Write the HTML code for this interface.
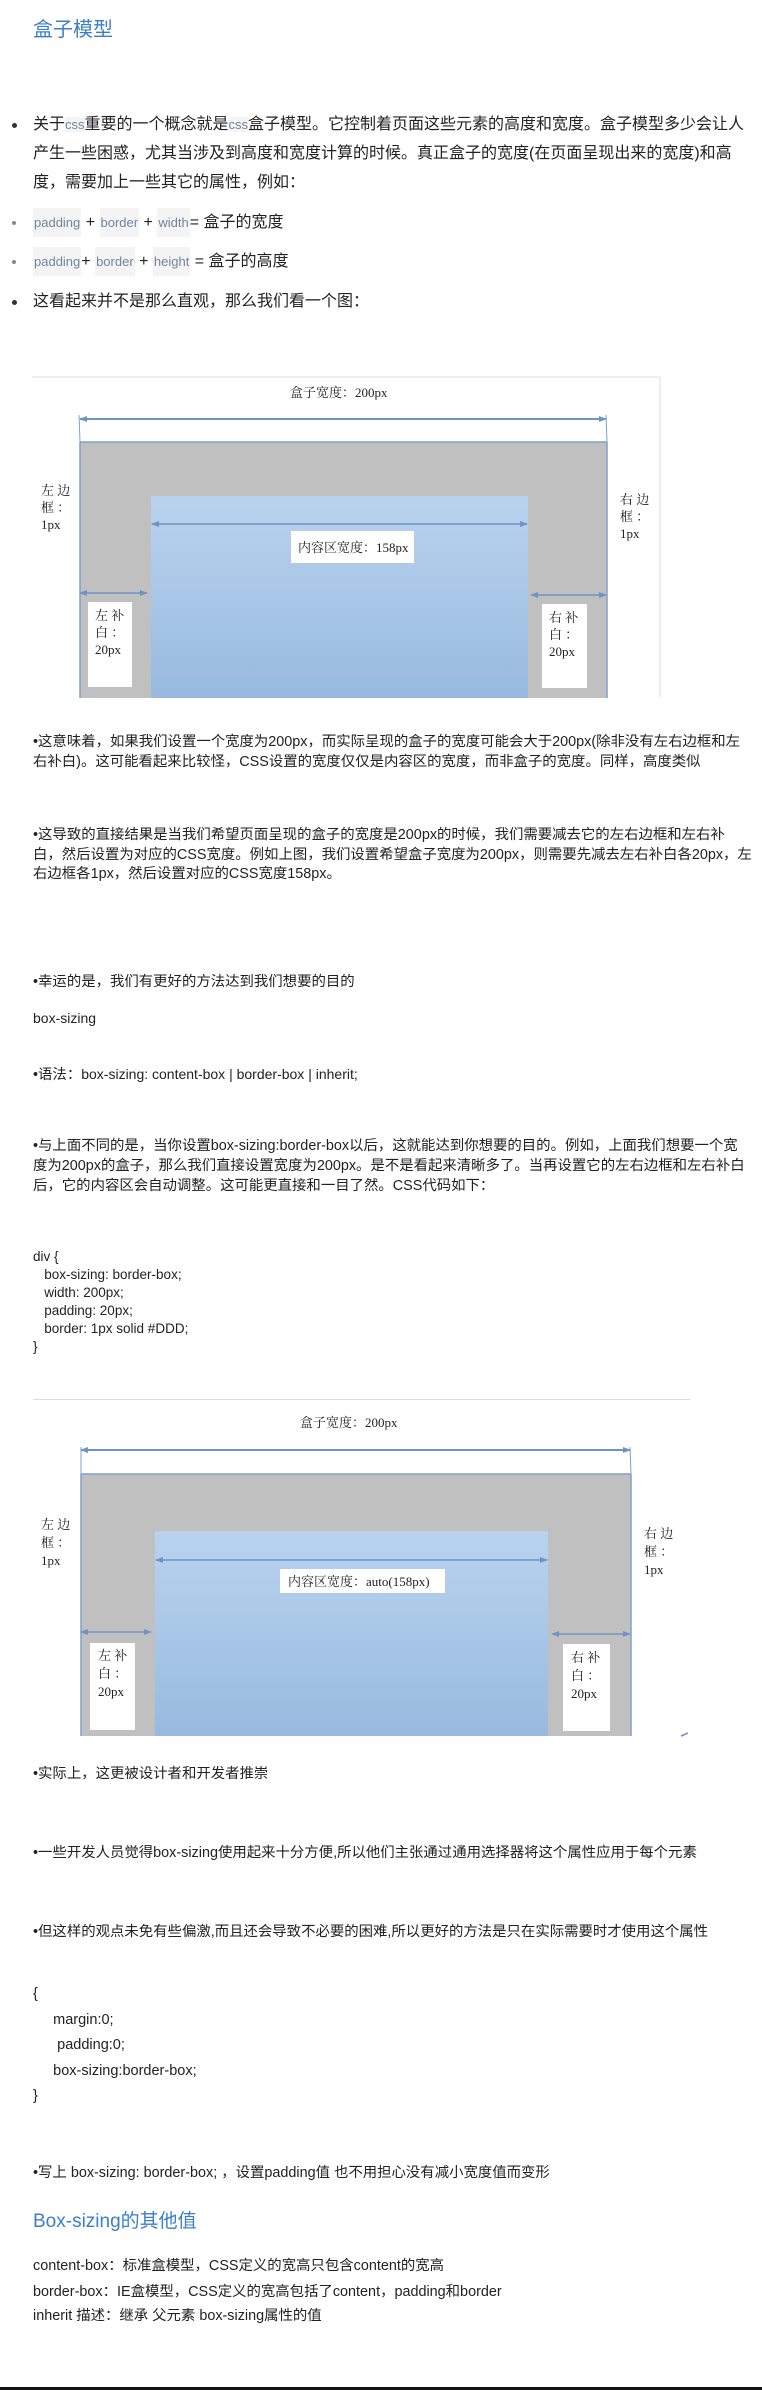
<!DOCTYPE html>
<html><head><meta charset="utf-8">
<style>
*{margin:0;padding:0;box-sizing:border-box}
body{width:762px;height:2390px;background:#fff;position:relative;overflow:hidden;font-family:"Liberation Sans","Noto Sans CJK SC",sans-serif;color:#222}
.a{position:absolute;white-space:nowrap}
.t16{font-size:16px;line-height:20px}
.t15{font-size:14.4px;line-height:20px}
.c{background:#f4f4f4;color:#6f86a0;font-size:13px;padding:6px 1px;display:inline-block;line-height:17px}
.dot{position:absolute;width:5px;height:5px;border-radius:50%;background:#333}
svg{position:absolute;left:0}
svg text{font-family:"Liberation Serif","Noto Serif CJK SC",serif;font-size:13px;fill:#222}
</style></head><body>
<div class="a" style="left:33px;top:13px;font-size:20px;color:#3c7fc9">盒子模型</div>

<div class="dot" style="left:12px;top:123px"></div>
<div class="a t16" style="left:33px;top:115px">关于<span style="background:#f4f4f4;color:#6f86a0;font-size:13px">css</span>重要的一个概念就是<span style="background:#f4f4f4;color:#6f86a0;font-size:13px">css</span>盒子模型。它控制着页面这些元素的高度和宽度。盒子模型多少会让人</div>
<div class="a t16" style="left:33px;top:144px">产生一些困惑，尤其当涉及到高度和宽度计算的时候。真正盒子的宽度(在页面呈现出来的宽度)和高</div>
<div class="a t16" style="left:33px;top:173px">度，需要加上一些其它的属性，例如：</div>

<div class="dot" style="left:12px;top:221px;background:#888;width:4px;height:4px"></div>
<div class="a t16" style="left:33px;top:208px;line-height:29px"><span class="c">padding</span> + <span class="c">border</span> + <span class="c">width</span>= 盒子的宽度</div>
<div class="dot" style="left:12px;top:260px;background:#888;width:4px;height:4px"></div>
<div class="a t16" style="left:33px;top:247px;line-height:29px"><span class="c">padding</span>+ <span class="c">border</span> + <span class="c">height</span> = 盒子的高度</div>
<div class="dot" style="left:12px;top:300px"></div>
<div class="a t16" style="left:33px;top:292px">这看起来并不是那么直观，那么我们看一个图：</div>

<svg width="762" height="330" style="top:370px" viewBox="0 370 762 330">
<defs><linearGradient id="g" x1="0" y1="0" x2="0" y2="1"><stop offset="0" stop-color="#b9d3ef"/><stop offset="1" stop-color="#98badf"/></linearGradient>
<marker id="m" markerUnits="userSpaceOnUse" markerWidth="8" markerHeight="6" refX="7" refY="3" orient="auto-start-reverse"><path d="M0,0L8,3L0,6z" fill="#6f94c3"/></marker></defs>
<line x1="32" y1="377" x2="660" y2="377" stroke="#ddd"/>
<line x1="660" y1="377" x2="660" y2="697" stroke="#ddd"/>
<text x="290" y="397">盒子宽度：200px</text>
<rect x="80" y="442" width="527" height="256" fill="#c0c0c0"/>
<line x1="80" y1="442" x2="607" y2="442" stroke="#7fa0cc" stroke-width="1.5"/>
<line x1="80" y1="442" x2="80" y2="698" stroke="#7fa0cc" stroke-width="1.5"/>
<line x1="607" y1="442" x2="607" y2="698" stroke="#7fa0cc" stroke-width="1.5"/>
<line x1="79" y1="415" x2="80" y2="442" stroke="#7fa0cc"/><line x1="606" y1="415" x2="607" y2="442" stroke="#7fa0cc"/>
<line x1="80" y1="419" x2="606" y2="419" stroke="#6f94c3" stroke-width="2" marker-start="url(#m)" marker-end="url(#m)"/>
<rect x="151" y="496" width="377" height="202" fill="url(#g)"/>
<line x1="152" y1="524" x2="527" y2="524" stroke="#6f94c3" stroke-width="1.5" marker-start="url(#m)" marker-end="url(#m)"/>
<rect x="291" y="531" width="123" height="32" fill="#fff"/>
<text x="298" y="552">内容区宽度：158px</text>
<line x1="80" y1="593" x2="147" y2="593" stroke="#6f94c3" stroke-width="1.5" marker-start="url(#m)" marker-end="url(#m)"/>
<line x1="531" y1="595" x2="606" y2="595" stroke="#6f94c3" stroke-width="1.5" marker-start="url(#m)" marker-end="url(#m)"/>
<rect x="88" y="602" width="44" height="85" fill="#fff"/>
<rect x="542" y="604" width="45" height="84" fill="#fff"/>
<text x="41" y="495">左 边</text><text x="41" y="512">框 ：</text><text x="41" y="529">1px</text>
<text x="620" y="504">右 边</text><text x="620" y="521">框 ：</text><text x="620" y="538">1px</text>
<text x="95" y="620">左 补</text><text x="95" y="637">白 ：</text><text x="95" y="654">20px</text>
<text x="549" y="622">右 补</text><text x="549" y="639">白 ：</text><text x="549" y="656">20px</text>
</svg>

<div class="a t15" style="left:33px;top:732px">•这意味着，如果我们设置一个宽度为200px，而实际呈现的盒子的宽度可能会大于200px(除非没有左右边框和左</div>
<div class="a t15" style="left:33px;top:752px">右补白)。这可能看起来比较怪，CSS设置的宽度仅仅是内容区的宽度，而非盒子的宽度。同样，高度类似</div>
<div class="a t15" style="left:33px;top:825px">•这导致的直接结果是当我们希望页面呈现的盒子的宽度是200px的时候，我们需要减去它的左右边框和左右补</div>
<div class="a t15" style="left:33px;top:845px">白，然后设置为对应的CSS宽度。例如上图，我们设置希望盒子宽度为200px，则需要先减去左右补白各20px，左</div>
<div class="a t15" style="left:33px;top:864px">右边框各1px，然后设置对应的CSS宽度158px。</div>
<div class="a t15" style="left:33px;top:972px">•幸运的是，我们有更好的方法达到我们想要的目的</div>
<div class="a t15" style="left:33px;top:1008px;font-size:14px">box-sizing</div>
<div class="a t15" style="left:33px;top:1064px">•语法：<span style="font-size:14px">box-sizing:  content-box | border-box | inherit;</span></div>
<div class="a t15" style="left:33px;top:1136px">•与上面不同的是，当你设置box-sizing:border-box以后，这就能达到你想要的目的。例如，上面我们想要一个宽</div>
<div class="a t15" style="left:33px;top:1156px">度为200px的盒子，那么我们直接设置宽度为200px。是不是看起来清晰多了。当再设置它的左右边框和左右补白</div>
<div class="a t15" style="left:33px;top:1176px">后，它的内容区会自动调整。这可能更直接和一目了然。CSS代码如下：</div>
<div class="a" style="left:33px;top:1248px;font-size:13.5px;line-height:18px;white-space:pre">div {
   box-sizing: border-box;
   width: 200px;
   padding: 20px;
   border: 1px solid #DDD;
}</div>
<div class="a" style="left:33px;top:1399px;width:657px;height:1px;background:#ddd"></div>

<svg width="762" height="340" style="top:1405px" viewBox="0 1405 762 340">
<defs><linearGradient id="g2" x1="0" y1="0" x2="0" y2="1"><stop offset="0" stop-color="#b9d3ef"/><stop offset="1" stop-color="#98badf"/></linearGradient>
<marker id="m2" markerUnits="userSpaceOnUse" markerWidth="8" markerHeight="6" refX="7" refY="3" orient="auto-start-reverse"><path d="M0,0L8,3L0,6z" fill="#6f94c3"/></marker></defs>
<text x="300" y="1427">盒子宽度：200px</text>
<rect x="81" y="1474" width="550" height="262" fill="#c0c0c0"/>
<line x1="81" y1="1474" x2="631" y2="1474" stroke="#7fa0cc" stroke-width="1.5"/>
<line x1="81" y1="1474" x2="81" y2="1736" stroke="#7fa0cc" stroke-width="1.5"/>
<line x1="631" y1="1474" x2="631" y2="1736" stroke="#7fa0cc" stroke-width="1.5"/>
<line x1="81" y1="1447" x2="81" y2="1474" stroke="#7fa0cc"/><line x1="630" y1="1447" x2="631" y2="1474" stroke="#7fa0cc"/>
<line x1="81" y1="1450" x2="630" y2="1450" stroke="#6f94c3" stroke-width="2" marker-start="url(#m2)" marker-end="url(#m2)"/>
<rect x="155" y="1531" width="393" height="205" fill="url(#g2)"/>
<line x1="156" y1="1560" x2="547" y2="1560" stroke="#6f94c3" stroke-width="1.5" marker-start="url(#m2)" marker-end="url(#m2)"/>
<rect x="280" y="1569" width="165" height="24" fill="#fff"/>
<text x="288" y="1586">内容区宽度：auto(158px)</text>
<line x1="81" y1="1632" x2="151" y2="1632" stroke="#6f94c3" stroke-width="1.5" marker-start="url(#m2)" marker-end="url(#m2)"/>
<line x1="552" y1="1634" x2="630" y2="1634" stroke="#6f94c3" stroke-width="1.5" marker-start="url(#m2)" marker-end="url(#m2)"/>
<rect x="90" y="1643" width="45" height="87" fill="#fff"/>
<rect x="563" y="1644" width="47" height="87" fill="#fff"/>
<text x="41" y="1529">左 边</text><text x="41" y="1547">框 ：</text><text x="41" y="1565">1px</text>
<text x="644" y="1538">右 边</text><text x="644" y="1556">框 ：</text><text x="644" y="1574">1px</text>
<text x="98" y="1660">左 补</text><text x="98" y="1678">白 ：</text><text x="98" y="1696">20px</text>
<text x="571" y="1662">右 补</text><text x="571" y="1680">白 ：</text><text x="571" y="1698">20px</text>
<line x1="681" y1="1736" x2="688" y2="1733" stroke="#6f94c3" stroke-width="1.5"/>
</svg>

<div class="a t15" style="left:33px;top:1764px">•实际上，这更被设计者和开发者推崇</div>
<div class="a t15" style="left:33px;top:1843px">•一些开发人员觉得box-sizing使用起来十分方便,所以他们主张通过通用选择器将这个属性应用于每个元素</div>
<div class="a t15" style="left:33px;top:1922px">•但这样的观点未免有些偏激,而且还会导致不必要的困难,所以更好的方法是只在实际需要时才使用这个属性</div>
<div class="a" style="left:33px;top:1982px;font-size:14.5px;line-height:25.5px;white-space:pre">{
     margin:0;
      padding:0;
     box-sizing:border-box;
}</div>
<div class="a t15" style="left:33px;top:2163px">•写上 box-sizing: border-box; ，设置padding值 也不用担心没有减小宽度值而变形</div>
<div class="a" style="left:33px;top:2206px;font-size:19px;color:#3c7fc9">Box-sizing的其他值</div>
<div class="a t15" style="left:33px;top:2256px">content-box：标准盒模型，CSS定义的宽高只包含content的宽高</div>
<div class="a t15" style="left:33px;top:2282px">border-box：IE盒模型，CSS定义的宽高包括了content，padding和border</div>
<div class="a t15" style="left:33px;top:2306px">inherit 描述：继承 父元素 box-sizing属性的值</div>
<div class="a" style="left:0;top:2387px;width:762px;height:3px;background:#111"></div>
</body></html>
